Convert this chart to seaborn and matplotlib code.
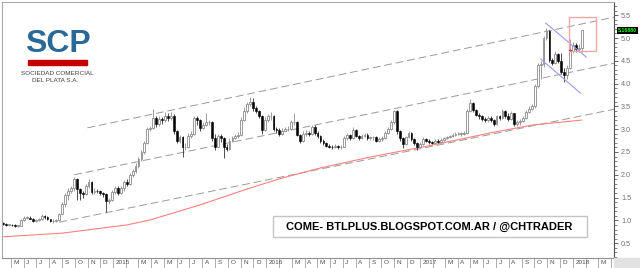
import numpy as np
import pandas as pd
import matplotlib
matplotlib.use("Agg")
import matplotlib.pyplot as plt
import matplotlib.patches as mpatches
import matplotlib.transforms as mtransforms
from matplotlib.ticker import MultipleLocator, FormatStrFormatter
import seaborn as sns

# ---------------- data (weekly candles) ----------------
start_date = "2014-04-14"
first_open = 0.93
close = [
    0.92, 0.90, 0.90, 0.89, 0.88, 0.88, 1.00, 1.05, 1.06, 1.04,
    0.98, 1.00, 1.02, 1.10, 1.08, 1.02, 0.98, 0.99, 1.00, 1.15,
    1.35, 1.55, 1.65, 1.70, 1.90, 1.68, 1.60, 1.58, 1.75, 1.84,
    1.62, 1.65, 1.64, 1.60, 1.58, 1.42, 1.45, 1.62, 1.72, 1.60,
    1.70, 1.85, 1.80, 2.00, 2.08, 2.20, 2.35, 2.50, 2.70, 3.00,
    3.03, 3.25, 3.12, 3.22, 3.20, 3.30, 3.25, 3.30, 2.95, 2.75,
    2.83, 2.60, 2.62, 2.85, 2.90, 3.25, 3.20, 3.02, 3.10, 3.15,
    3.15, 2.80, 2.62, 2.85, 2.80, 2.62, 2.57, 2.75, 2.80, 2.85,
    2.88, 3.20, 3.40, 3.55, 3.60, 3.46, 3.40, 3.30, 2.98, 3.20,
    3.28, 3.30, 3.00, 2.98, 2.90, 2.97, 3.00, 3.00, 3.15, 3.15,
    2.88, 2.75, 2.90, 2.92, 2.90, 3.05, 2.92, 2.85, 2.74, 2.70,
    2.64, 2.62, 2.60, 2.63, 2.60, 2.62, 2.80, 2.88, 2.80, 2.98,
    2.86, 2.80, 2.85, 2.88, 2.80, 2.82, 2.82, 2.75, 2.78, 2.80,
    2.92, 3.00, 3.15, 3.40, 2.95, 2.80, 2.68, 2.82, 2.92, 2.78,
    2.70, 2.60, 2.68, 2.78, 2.75, 2.72, 2.70, 2.75, 2.72, 2.77,
    2.80, 2.82, 2.85, 2.88, 2.90, 2.90, 2.90, 2.92, 3.40, 3.58,
    3.42, 3.32, 3.30, 3.22, 3.20, 3.25, 3.20, 3.12, 3.28, 3.25,
    3.40, 3.30, 3.22, 3.35, 3.12, 3.15, 3.18, 3.25, 3.38, 3.45,
    3.50, 3.95, 4.40, 4.42, 5.00, 5.15, 4.52, 4.45, 4.65, 4.50,
    4.25, 4.19, 4.35, 4.72, 4.85, 4.75, 4.78, 5.17]
high = [
    0.96, 0.94, 0.93, 0.92, 0.91, 0.90, 1.02, 1.10, 1.10, 1.09,
    1.06, 1.03, 1.05, 1.13, 1.12, 1.10, 1.04, 1.02, 1.03, 1.17,
    1.40, 1.60, 1.70, 1.75, 1.95, 1.93, 1.72, 1.65, 1.80, 1.90,
    1.86, 1.70, 1.69, 1.66, 1.63, 1.60, 1.50, 1.66, 1.76, 1.75,
    1.75, 1.88, 1.90, 2.04, 2.12, 2.25, 2.40, 2.55, 2.75, 3.05,
    3.08, 3.44, 3.30, 3.28, 3.27, 3.38, 3.35, 3.38, 3.33, 2.98,
    2.88, 2.86, 2.70, 2.92, 2.95, 3.30, 3.30, 3.22, 3.15, 3.35,
    3.20, 3.18, 2.90, 2.90, 2.90, 2.82, 2.68, 2.80, 2.86, 2.90,
    2.93, 3.27, 3.49, 3.60, 3.70, 3.68, 3.50, 3.42, 3.32, 3.27,
    3.33, 3.38, 3.32, 3.05, 3.02, 3.03, 3.05, 3.06, 3.20, 3.35,
    3.17, 2.90, 2.95, 2.98, 2.96, 3.10, 3.10, 2.95, 2.88, 2.78,
    2.72, 2.67, 2.66, 2.67, 2.66, 2.66, 2.85, 2.92, 2.90, 3.05,
    3.00, 2.88, 2.90, 2.92, 2.92, 2.86, 2.86, 2.84, 2.82, 2.84,
    2.96, 3.04, 3.20, 3.42, 3.42, 2.98, 2.82, 2.86, 2.96, 2.94,
    2.80, 2.72, 2.72, 2.82, 2.80, 2.78, 2.75, 2.78, 2.78, 2.80,
    2.83, 2.86, 2.88, 2.92, 2.94, 2.93, 2.94, 2.96, 3.44, 3.66,
    3.60, 3.44, 3.36, 3.32, 3.26, 3.28, 3.28, 3.22, 3.32, 3.32,
    3.44, 3.42, 3.35, 3.40, 3.36, 3.20, 3.22, 3.30, 3.42, 3.50,
    3.55, 4.00, 4.45, 4.50, 5.05, 5.22, 5.18, 4.56, 4.72, 4.68,
    4.67, 4.34, 4.40, 4.98, 4.92, 4.88, 4.86, 5.18]
low = [
    0.89, 0.88, 0.87, 0.87, 0.86, 0.85, 0.87, 0.98, 1.02, 1.02,
    0.96, 0.96, 0.98, 1.00, 1.04, 1.00, 0.96, 0.95, 0.96, 0.99,
    1.13, 1.30, 1.45, 1.60, 1.65, 1.45, 1.45, 1.50, 1.55, 1.70,
    1.58, 1.58, 1.60, 1.55, 1.52, 1.18, 1.35, 1.42, 1.58, 1.56,
    1.58, 1.65, 1.75, 1.78, 1.95, 2.05, 2.15, 2.30, 2.45, 2.68,
    2.95, 3.00, 3.05, 3.08, 3.12, 3.15, 3.18, 3.20, 2.90, 2.70,
    2.70, 2.39, 2.55, 2.58, 2.80, 2.87, 3.10, 2.97, 3.00, 3.08,
    3.10, 2.75, 2.54, 2.60, 2.72, 2.37, 2.52, 2.55, 2.72, 2.78,
    2.80, 2.85, 3.18, 3.36, 3.50, 3.40, 3.35, 3.25, 2.90, 2.95,
    3.15, 3.20, 2.95, 2.92, 2.85, 2.87, 2.95, 2.96, 2.98, 3.10,
    2.84, 2.70, 2.72, 2.85, 2.85, 2.88, 2.88, 2.80, 2.70, 2.65,
    2.60, 2.58, 2.57, 2.58, 2.57, 2.57, 2.60, 2.77, 2.76, 2.78,
    2.82, 2.76, 2.78, 2.82, 2.76, 2.77, 2.77, 2.72, 2.72, 2.75,
    2.78, 2.90, 2.98, 3.12, 2.90, 2.74, 2.59, 2.66, 2.80, 2.74,
    2.66, 2.54, 2.58, 2.66, 2.72, 2.68, 2.67, 2.68, 2.69, 2.70,
    2.75, 2.78, 2.80, 2.83, 2.85, 2.87, 2.86, 2.88, 2.90, 3.38,
    3.38, 3.28, 3.22, 3.18, 3.15, 3.16, 3.15, 3.08, 3.10, 3.20,
    3.22, 3.25, 3.18, 3.20, 3.08, 3.08, 3.10, 3.15, 3.22, 3.35,
    3.42, 3.47, 3.90, 4.10, 4.36, 4.95, 4.48, 4.40, 4.42, 4.45,
    4.20, 4.03, 4.10, 4.33, 4.67, 4.70, 4.70, 4.70]

# red moving average (read at a few weeks)
ma_week = [0, 20, 42, 50, 67, 84, 95, 108, 125, 146, 166, 180, 197]
ma_value = [0.64, 0.72, 0.90, 1.01, 1.34, 1.71, 1.93, 2.15, 2.39, 2.65, 2.92, 3.09, 3.20]

# grey dashed channel lines (week, price)
chan_top_week = [28.6, 208.2]
chan_top_value = [3.03, 5.46]
chan_mid_week = [24.1, 208.2]
chan_mid_value = [2.00, 4.45]
chan_low_week = [19.0, 208.2]
chan_low_value = [0.96, 3.44]

# blue descending channel
blue_up_week = [184.7, 198.6]
blue_up_value = [5.33, 4.58]
blue_dn_week = [183.0, 196.6]
blue_dn_value = [4.54, 3.79]

# pink box
box_week = [192.5, 202.0]
box_value = [4.71, 5.46]

last_price_label = "5.16880"
last_price = 5.1688
y_ticks = [0.5, 1.0, 1.5, 2.0, 2.5, 3.0, 3.5, 4.0, 4.5, 5.0, 5.5]
month_letters = ["J", "F", "M", "A", "M", "J", "J", "A", "S", "O", "N", "D"]
watermark = "COME- BTLPLUS.BLOGSPOT.COM.AR / @CHTRADER"

# ---------------- frame ----------------
n = len(close)
opens = [first_open] + close[:-1]
df = pd.DataFrame({"week": np.arange(n), "open": opens, "close": close,
                   "high": high, "low": low})
up = df["close"] >= df["open"]

sns.set_style("white")
plt.rcParams["font.family"] = ["Liberation Sans", "DejaVu Sans"]

W, H = 640, 268
fig = plt.figure(figsize=(W / 100, H / 100), dpi=100)
ax = fig.add_axes([2 / W, 10 / H, 612 / W, 256 / H])
ax.set_xlim(-0.5, 208.0)
ax.set_ylim(0.175, 5.79)

# channel lines
dash = (0, (8, 4))
for wk, vl in [(chan_top_week, chan_top_value), (chan_mid_week, chan_mid_value),
               (chan_low_week, chan_low_value)]:
    sns.lineplot(x=wk, y=vl, ax=ax, color="#9a9a9a", lw=0.7, linestyle=dash, zorder=1)

# moving average
sns.lineplot(x=ma_week, y=ma_value, ax=ax, color="#ff8080", lw=0.8, zorder=1)

# candles
wick_col = np.where(up, "#8f8f8f", "#303030")
ax.vlines(df["week"], df["low"], df["high"], colors=wick_col, lw=0.6, zorder=2)
body = np.maximum((df["close"] - df["open"]).abs(), 0.015)
bottom = np.minimum(df["open"], df["close"])
ax.bar(df["week"][up], body[up], bottom=bottom[up], width=0.62,
       color="white", edgecolor="#8a8a8a", linewidth=0.6, zorder=3)
ax.bar(df["week"][~up], body[~up], bottom=bottom[~up], width=0.62,
       color="black", edgecolor="black", linewidth=0.4, zorder=3)

# blue lines
sns.lineplot(x=blue_up_week, y=blue_up_value, ax=ax, color="#9a9af0", lw=0.8, zorder=4)
sns.lineplot(x=blue_dn_week, y=blue_dn_value, ax=ax, color="#9a9af0", lw=0.8, zorder=4)

# pink box
ax.add_patch(mpatches.Rectangle((box_week[0], box_value[0]), box_week[1] - box_week[0],
                                box_value[1] - box_value[0], fill=False,
                                edgecolor="#f0a8a8", lw=1.0, zorder=5))
ax.plot([192.6, 193.5], [4.74, 4.74], color="#e03030", lw=1.0, zorder=5)

# axes styling
for s in ["left", "top"]:
    ax.spines[s].set_color("#a8a8a8")
    ax.spines[s].set_linewidth(0.8)
ax.spines["right"].set_color("#505050")
ax.spines["right"].set_linewidth(0.8)
ax.spines["bottom"].set_color("#909090")
ax.spines["bottom"].set_linewidth(0.8)
ax.set_xticks([])
ax.set_xlabel("")
ax.set_ylabel("")
ax.yaxis.tick_right()
ax.set_yticks(y_ticks)
ax.yaxis.set_major_formatter(FormatStrFormatter("%.1f"))
ax.yaxis.set_minor_locator(MultipleLocator(0.1))
ax.tick_params(axis="y", which="major", length=3, width=0.6, color="#505050",
               labelcolor="#707070", labelsize=5.2, pad=2)
ax.tick_params(axis="y", which="minor", length=1.8, width=0.5, color="#505050")

# last price label
trans_ya = mtransforms.blended_transform_factory(ax.transAxes, ax.transData)
ax.text(1.006, last_price, last_price_label, transform=trans_ya, fontsize=3.8,
        color="#20ff20", ha="left", va="center", fontweight="bold",
        bbox=dict(facecolor="black", edgecolor="none", pad=0.8), clip_on=False)

# month strip
trans_xa = mtransforms.blended_transform_factory(ax.transData, ax.transAxes)
start = pd.Timestamp(start_date)
months = pd.date_range("2014-05-01", "2018-04-01", freq="MS")
strip_h = 10 / 256
for d in months:
    pos = (d - start).days / 7.0
    ax.plot([pos, pos], [0, -strip_h], transform=trans_xa, color="#a0a0a0",
            lw=0.6, clip_on=False)
    if d.month == 2 or pos + 1 > 205:
        continue
    lab = str(d.year) if d.month == 1 else month_letters[d.month - 1]
    ax.text(pos + 0.9, -strip_h / 2, lab, transform=trans_xa, fontsize=4.6,
            color="#505050", ha="left", va="center", clip_on=False)

fig.patches.append(mpatches.Rectangle((614 / W, 0), 26 / W, 10 / H,
                                      transform=fig.transFigure, color="#e2e2e2"))

# logo
fig.text(58 / W, 1 - 44 / H, "SCP", fontsize=23, fontweight="bold",
         color="#2a6898", ha="center", va="center")
fig.patches.append(mpatches.Rectangle((28 / W, 1 - 65 / H), 59 / W, 5 / H,
                                      transform=fig.transFigure, color="#c40000"))
fig.text(57.5 / W, 1 - 73.5 / H, "SOCIEDAD COMERCIAL", fontsize=4.6,
         color="#404040", ha="center", va="center")
fig.text(55.5 / W, 1 - 81 / H, "DEL PLATA S.A.", fontsize=4.6,
         color="#404040", ha="center", va="center")

# watermark box
fig.patches.append(mpatches.Rectangle((272.7 / W, 1 - 237.3 / H), 314 / W, 21.6 / H,
                                      transform=fig.transFigure, facecolor="white",
                                      edgecolor="#c4c4c4", lw=1.0, zorder=6))
fig.text(429.5 / W, 1 - 226.5 / H, watermark, fontsize=8, fontweight="bold",
         color="black", ha="center", va="center", zorder=7)

fig.savefig("out.png", dpi=100)
